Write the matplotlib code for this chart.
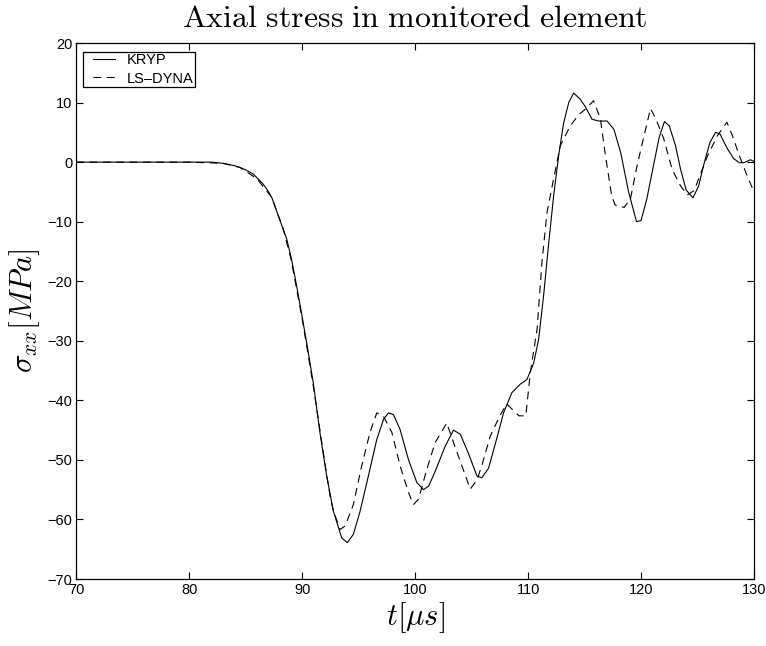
import matplotlib
matplotlib.use("Agg")
import matplotlib.pyplot as plt
from matplotlib.lines import Line2D
from matplotlib.legend_handler import HandlerLine2D

plt.rcParams["mathtext.fontset"] = "cm"
plt.rcParams["font.family"] = ["Liberation Sans", "DejaVu Sans"]

# KRYP solution: axial stress vs time
kryp_t = [70, 80, 82, 83, 84, 84.5, 85, 85.66, 86.2, 86.55, 87, 87.3, 88, 88.63,
          89.07, 89.5, 90, 90.5, 91, 91.57, 92.17, 92.76, 93.5, 94.0, 94.53, 95.1,
          95.86, 96.6, 97.2, 97.63, 98.08, 98.67, 99.4, 100.15, 100.74, 101.2,
          101.8, 102.66, 103.4, 104.0, 104.7, 105.47, 105.9, 106.5, 107.2, 107.83,
          108.57, 109.3, 109.9, 110.5, 110.93, 111.37, 111.8, 112.26, 112.7,
          113.15, 113.6, 114.03, 114.6, 115.07, 115.66, 116.25, 117.0, 117.6,
          118.2, 118.9, 119.6, 120.0, 120.5, 121.1, 121.6, 122.07, 122.5, 123.05,
          123.5, 124.0, 124.6, 125.1, 125.6, 126.1, 126.6, 127.0, 127.6, 128.2,
          128.7, 129.1, 129.7, 130]
kryp_s = [0, 0, 0, -0.2, -0.6, -0.9, -1.3, -2.0, -3.0, -3.7, -4.9, -5.9, -9.6, -12.9,
          -16.4, -20.7, -26.0, -31.5, -37.3, -45.4, -52.7, -58.6, -63.1, -63.9,
          -62.5, -58.8, -52.7, -46.6, -43.2, -42.1, -42.4, -44.9, -49.9, -53.8,
          -55.0, -54.4, -51.8, -47.7, -45.0, -45.7, -48.8, -52.7, -53.0, -51.4,
          -46.6, -42.1, -38.7, -37.3, -36.5, -33.7, -29.8, -22.5, -14.1, -5.7,
          1.0, 6.6, 10.0, 11.6, 10.6, 9.3, 7.2, 6.9, 6.9, 5.5, 1.6, -5.0, -10.0,
          -9.8, -6.3, -0.6, 4.1, 6.8, 6.1, 2.8, -1.2, -4.7, -6.0, -4.0, -0.1, 3.3,
          5.0, 4.7, 2.4, 0.6, -0.1, -0.1, 0.4, 0.1]

# LS-DYNA solution: axial stress vs time
dyna_t = [70, 80, 83, 84.5, 86, 87.3, 88.3, 89, 90, 91, 91.8, 92.5, 92.76, 93.35,
          93.8, 94.53, 95.27, 96.0, 96.6, 97.2, 97.94, 98.67, 99.4, 99.85, 100.3,
          101.03, 101.77, 102.8, 103.4, 104.14, 104.88, 105.47, 105.9, 106.65,
          107.5, 108.1, 109.2, 109.8, 110.2, 110.8, 111.23, 111.67, 112.26,
          112.86, 113.74, 114.5, 115.07, 115.8, 116.4, 116.85, 117.4, 117.7,
          118.5, 119.06, 119.65, 120.4, 120.84, 121.3, 122.0, 122.75, 123.5,
          124.1, 124.7, 125.1, 125.9, 126.75, 127.6, 128.1, 128.7, 129.4, 130]
dyna_s = [0, 0, -0.2, -0.9, -2.8, -5.9, -11.1, -16.2, -26.3, -37.8, -47.9, -56.5,
          -58.5, -61.7, -61.1, -57.5, -51.0, -45.4, -42.1, -42.7, -45.4, -51.0,
          -55.4, -57.5, -56.6, -51.6, -47.1, -43.8, -47.1, -51.0, -54.9, -53.4,
          -51.0, -46.0, -42.6, -40.6, -42.6, -42.6, -35.3, -28.0, -16.8, -8.5,
          -2.8, 2.8, 6.1, 8.0, 8.9, 10.3, 7.3, 1.1, -5.6, -7.2, -7.6, -6.2, -0.6,
          5.5, 9.0, 7.3, 4.0, -1.2, -4.0, -5.5, -4.8, -2.8, 1.1, 4.4, 6.7, 4.4,
          1.1, -2.3, -5.0]

series_labels = ["KRYP", "LS\u2013DYNA"]
x_ticks = [70, 80, 90, 100, 110, 120, 130]
y_ticks = [-70, -60, -50, -40, -30, -20, -10, 0, 10, 20]

fig = plt.figure(figsize=(7.66, 6.46), dpi=100)
ax = fig.add_axes([0.0996, 0.1037, 0.8847, 0.8297])

ax.plot(kryp_t, kryp_s, color="black", linewidth=0.8, linestyle="-",
        label=series_labels[0])
ax.plot(dyna_t, dyna_s, color="black", linewidth=0.8, linestyle=(0, (7, 5)),
        label=series_labels[1])

ax.set_xlim(70, 130)
ax.set_ylim(-70, 20)
ax.set_xticks(x_ticks)
ax.set_yticks(y_ticks)
ax.tick_params(direction="in", top=True, right=True, length=5, width=0.8,
               labelsize=10.5, pad=3)
for sp in ax.spines.values():
    sp.set_linewidth(0.9)

ax.set_title(r"$\mathrm{Axial\ stress\ in\ monitored\ element}$", fontsize=23,
             pad=11.5)
ax.set_xlabel(r"$t[\mu s]$", fontsize=22, labelpad=2)
ax.set_ylabel(r"$\sigma_{xx}[MPa]$", fontsize=22, labelpad=4)

leg = ax.legend(loc="upper left", bbox_to_anchor=(0.0103, 0.9838),
                borderaxespad=0, fontsize=10.5, handlelength=2.07,
                handletextpad=0.8, labelspacing=0.3, borderpad=0.1,
                fancybox=False, framealpha=1, edgecolor="black",
                handler_map={Line2D: HandlerLine2D(xpad=0.54)})
leg.get_frame().set_linewidth(0.9)

fig.savefig("out.png", dpi=100)
